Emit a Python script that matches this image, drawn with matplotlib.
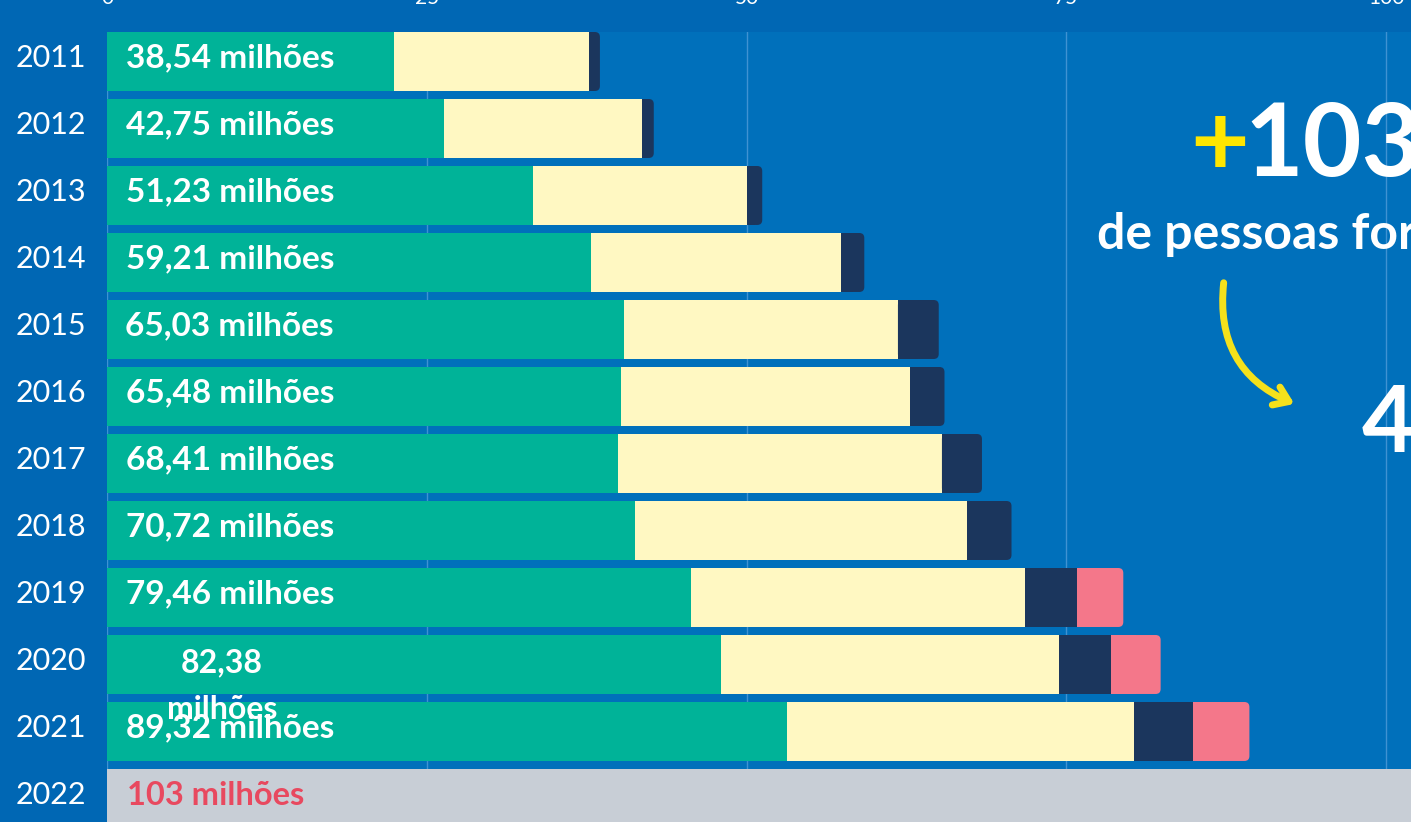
import numpy as np
import matplotlib.pyplot as plt
import matplotlib.transforms as mtransforms
from matplotlib.patches import FancyArrowPatch, FancyBboxPatch

# --- Data (millions of people) ---
years = ["2011", "2012", "2013", "2014", "2015", "2016",
         "2017", "2018", "2019", "2020", "2021", "2022"]
totals = [38.54, 42.75, 51.23, 59.21, 65.03, 65.48,
          68.41, 70.72, 79.46, 82.38, 89.32, 103.0]
total_labels = ["38,54 milhões", "42,75 milhões", "51,23 milhões", "59,21 milhões",
                "65,03 milhões", "65,48 milhões", "68,41 milhões", "70,72 milhões",
                "79,46 milhões", "82,38\nmilhões", "89,32 milhões", "103 milhões"]
seg_teal = [22.44, 26.35, 33.31, 37.84, 40.42, 40.19, 39.95, 41.28, 45.66, 48.01, 53.17]
seg_yellow = [15.25, 15.48, 16.73, 19.55, 21.42, 22.60, 25.33, 25.96, 26.11, 26.43, 27.13]
seg_navy = [0.85, 0.92, 1.19, 1.82, 3.19, 2.69, 3.13, 3.48, 4.07, 4.07, 4.61]
seg_pink = [0, 0, 0, 0, 0, 0, 0, 0, 3.62, 3.87, 4.41]
xticks = [0, 25, 50, 75, 100]

# --- Colours ---
bg_left = "#0067B4"
bg = "#0070BB"
teal = "#00B398"
yellow = "#FFF8C2"
navy = "#1B365D"
pink = "#F4778A"
gray = "#C8CED6"
red = "#E8495F"
grid_c = "#3F92D2"

W, H = 1411, 822
fig = plt.figure(figsize=(W / 100, H / 100), dpi=100, facecolor=bg_left)
ax = fig.add_axes([107 / W, 0, (W - 107) / W, (H - 32) / H])
ax.set_facecolor(bg)

n = len(seg_teal)
y = np.arange(n)
h = 0.88
left = np.zeros(n)
last_patch = [None] * n
for vals, col in [(seg_teal, teal), (seg_yellow, yellow), (seg_navy, navy), (seg_pink, pink)]:
    bars = ax.barh(y, vals, left=left, height=h, color=col, linewidth=0, zorder=2)
    for i, v in enumerate(vals):
        if v > 0:
            last_patch[i] = bars.patches[i]
    left = left + np.array(vals)

# round the right-hand end of every bar
r_x = 5 / 12.79
for p in last_patch:
    x0, y0, w, hh = p.get_x(), p.get_y(), p.get_width(), p.get_height()
    rb = FancyBboxPatch((x0, y0), w, hh, boxstyle=f"round,pad=0,rounding_size={r_x}",
                        mutation_aspect=(5 / 67) / r_x, facecolor=p.get_facecolor(),
                        linewidth=0, zorder=2)
    ax.add_patch(rb)
    p.set_width(w * 0.5)

# 2022 bar
ax.barh(len(years) - 1, totals[-1], height=h, color=gray, linewidth=0, zorder=2)

# labels inside bars
for i, lab in enumerate(total_labels[:-1]):
    if "\n" in lab:
        ax.text(9.0, i + 0.32, lab, ha="center", va="center", color="white",
                fontsize=23, fontweight="bold", family="Lato", linespacing=1.75, zorder=4)
    else:
        ax.text(9.6, i - 0.06, lab, ha="center", va="center", color="white",
                fontsize=24, fontweight="bold", family="Lato", zorder=4)
ax.text(1.56, len(years) - 1 - 0.04, total_labels[-1], ha="left", va="center", color=red,
        fontsize=23.5, fontweight="bold", family="Lato", zorder=4)

ax.set_xlim(0, (W - 107) / 12.79)
ax.set_ylim((H - 61.5) / 67, -0.44)

ax.set_yticks(np.arange(len(years)))
ax.set_yticklabels(years, fontsize=22, color="white", family="Lato", fontweight="normal")
ax.set_xticks(xticks)
ax.set_xticklabels([str(t) for t in xticks], fontsize=15, color="white", family="Lato")
ax.xaxis.tick_top()
ax.tick_params(axis="x", length=0, pad=17)
ax.tick_params(axis="y", length=0, pad=15)
# years sit slightly above the bar centres
shift = mtransforms.ScaledTranslation(0, 6 / 100, fig.dpi_scale_trans)
for lab in ax.get_yticklabels():
    lab.set_transform(lab.get_transform() + shift)

ax.set_axisbelow(True)
ax.grid(axis="x", color=grid_c, linewidth=1)
ax.grid(axis="y", visible=False)
for s in ax.spines.values():
    s.set_visible(False)

# --- Right-hand callout ---
fig.text(1190 / W, 1 - 176 / H, "+", color="#FFE600", fontsize=73, fontweight="bold",
         family="Lato", ha="left", va="baseline", zorder=0.4)
fig.text(1244 / W, 1 - 176 / H, "103", color="white", fontsize=73, fontweight="bold",
         family="Lato", ha="left", va="baseline", zorder=0.4)
fig.text(1097 / W, 1 - 249 / H, "de pessoas foram", color="white", fontsize=36,
         fontweight="bold", family="Lato", ha="left", va="baseline")
fig.text(1362 / W, 1 - 452 / H, "4", color="white", fontsize=66, fontweight="bold",
         family="Lato", ha="left", va="baseline")
arrow = FancyArrowPatch((1224 / W, 1 - 280 / H), (1297 / W, 1 - 405 / H),
                        transform=fig.transFigure, connectionstyle="arc3,rad=0.38",
                        arrowstyle="->,head_length=10,head_width=7", color="#F5E11B",
                        linewidth=5, capstyle="round", joinstyle="round")
fig.patches.append(arrow)

plt.savefig("out.png", dpi=100, facecolor=fig.get_facecolor())
